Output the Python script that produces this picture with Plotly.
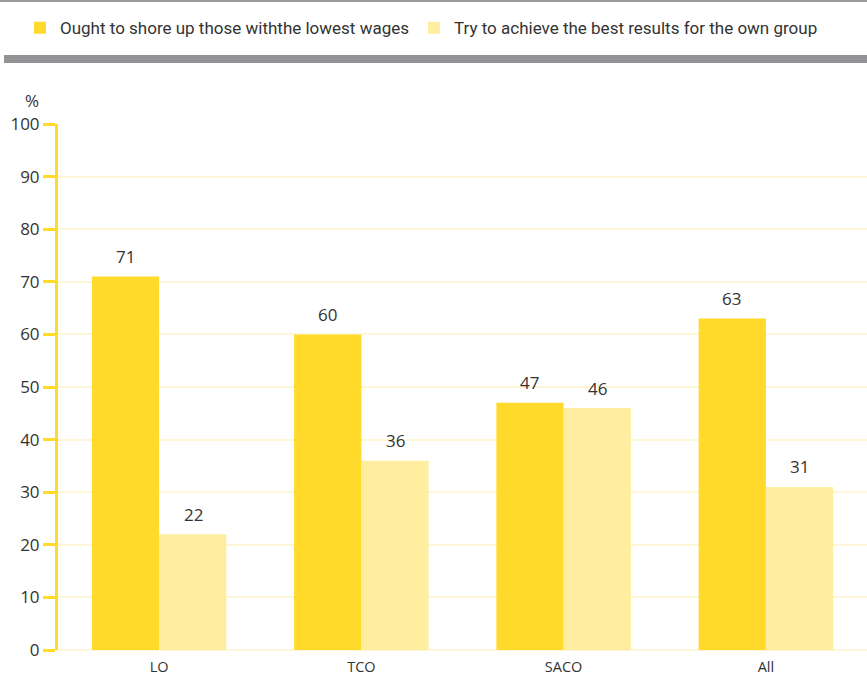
import plotly.graph_objects as go

categories = ["LO", "TCO", "SACO", "All"]
series_names = ["Ought to shore up those withthe lowest wages",
                "Try to achieve the best results for the own group"]
lowest_wages = [71, 60, 47, 63]
own_group = [22, 36, 46, 31]
y_ticks = [0, 10, 20, 30, 40, 50, 60, 70, 80, 90, 100]

dark = "#FFDA2B"
light = "#FFEDA0"
text_col = "#333333"
font_fam = "Roboto, sans-serif"

fig = go.Figure()
fig.add_trace(go.Bar(x=categories, y=lowest_wages, name=series_names[0],
                     marker=dict(color=dark, line=dict(width=0))))
fig.add_trace(go.Bar(x=categories, y=own_group, name=series_names[1],
                     marker=dict(color=light, line=dict(width=0))))

pw, ph = 867 - 58, 677 - 124 - 27

annotations = []
for vals, shift in [(lowest_wages, -34), (own_group, 34)]:
    for c, v in zip(categories, vals):
        annotations.append(dict(x=c, y=v, text=str(v), showarrow=False,
                                xref="x", yref="y", xshift=shift, yshift=20,
                                font=dict(size=17, color=text_col, family="Open Sans, sans-serif")))
annotations.append(dict(text="%", x=(32 - 58) / pw, y=(650 - 101) / ph,
                        xref="paper", yref="paper", xanchor="center", yanchor="middle",
                        showarrow=False,
                        font=dict(size=17, color=text_col, family="Open Sans, sans-serif")))

fig.update_layout(
    width=867, height=677,
    margin=dict(l=58, r=0, t=124, b=27),
    paper_bgcolor="white", plot_bgcolor="white",
    barmode="group", bargap=0.335, bargroupgap=0,
    showlegend=True,
    legend=dict(orientation="h", xref="container", yref="container",
                x=20 / 867, y=0.985, xanchor="left", yanchor="top",
                bgcolor="rgba(0,0,0,0)",
                font=dict(size=17, color=text_col, family=font_fam),
                itemwidth=30, tracegroupgap=0, traceorder="normal"),
    xaxis=dict(showline=False, ticks="", showgrid=False, automargin=False,
               ticklabelstandoff=6,
               tickfont=dict(size=14.5, color=text_col, family="Open Sans, sans-serif")),
    yaxis=dict(range=[0, 100], tickvals=y_ticks, showline=True, linecolor=dark, linewidth=3,
               ticks="outside", ticklen=12, tickwidth=3, tickcolor=dark,
               showgrid=True, gridcolor="#FFF6D8", gridwidth=2,
               zeroline=True, zerolinecolor="#FFF6D8", zerolinewidth=2,
               tickfont=dict(size=17, color=text_col, family="Open Sans, sans-serif")),
    shapes=[
        dict(type="rect", xref="paper", yref="paper",
             x0=(0 - 58) / pw, x1=1.0, y0=(650 - 0) / ph, y1=(650 - 2) / ph,
             fillcolor="#9A9A9C", line=dict(width=0), layer="above"),
        dict(type="rect", xref="paper", yref="paper",
             x0=(4 - 58) / pw, x1=1.0, y0=(650 - 55) / ph, y1=(650 - 63) / ph,
             fillcolor="#939396", line=dict(width=0), layer="above"),
    ],
    annotations=annotations,
)

fig.write_html("out.html")
